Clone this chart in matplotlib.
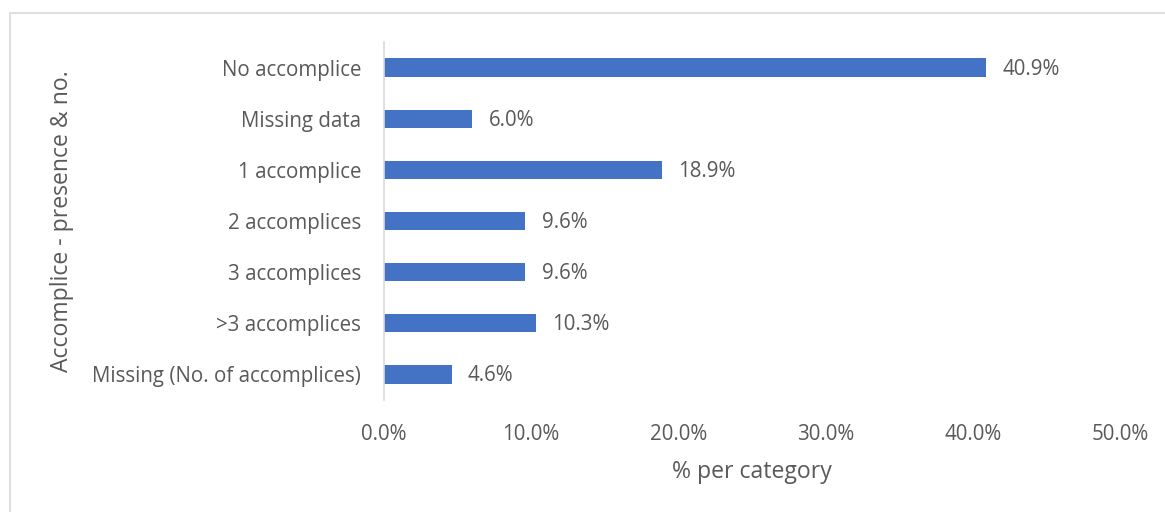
import matplotlib.pyplot as plt
import matplotlib.patches as patches
from matplotlib.ticker import PercentFormatter

categories = ["No accomplice", "Missing data", "1 accomplice", "2 accomplices",
              "3 accomplices", ">3 accomplices", "Missing (No. of accomplices)"]
shares = [40.9, 6.0, 18.9, 9.6, 9.6, 10.3, 4.6]
xticks = [0, 10, 20, 30, 40, 50]

grey = "#595959"
plt.rcParams['font.family'] = ['Open Sans', 'DejaVu Sans']

W, H = 1165, 512
fig = plt.figure(figsize=(W / 100, H / 100), dpi=100)
ax = fig.add_axes([384 / W, 1 - 400 / H, (1120 - 384) / W, 358 / H])

ypos = list(range(len(categories)))[::-1]
ax.barh(ypos, shares, height=0.36, color="#4472C4")
for y, v in zip(ypos, shares):
    ax.text(v + 1.1, y - 0.03, f"{v:.1f}%", va="center", ha="left",
            fontsize=14.8, color=grey)

ax.set_xlim(0, 50)
ax.set_ylim(-0.5, len(categories) - 0.5)
ax.set_yticks(ypos)
ax.set_yticklabels(categories)
ax.set_xticks(xticks)
ax.xaxis.set_major_formatter(PercentFormatter(decimals=1))
ax.tick_params(axis="both", length=0, labelsize=14.8, colors=grey)
ax.tick_params(axis="y", pad=16.5)
ax.tick_params(axis="x", pad=17)

for s in ["top", "right", "bottom"]:
    ax.spines[s].set_visible(False)
ax.spines["left"].set_color("#d9d9d9")
ax.spines["left"].set_linewidth(1.2)

ax.set_xlabel("% per category", fontsize=16.6, color=grey, labelpad=11)
ax.set_ylabel("Accomplice - presence & no.", fontsize=16.6, color=grey)
ax.yaxis.set_label_coords(-(384 - 74) / (1120 - 384), 0.5)

# chart area frame (runs off the right and bottom edges)
frame = patches.Rectangle((9.5 / W, -0.1), 1.2, 1 - 12.5 / H + 0.1,
                          transform=fig.transFigure, fill=False,
                          edgecolor="#d9d9d9", linewidth=1.2)
fig.patches.append(frame)

fig.savefig("out.png", dpi=100)
